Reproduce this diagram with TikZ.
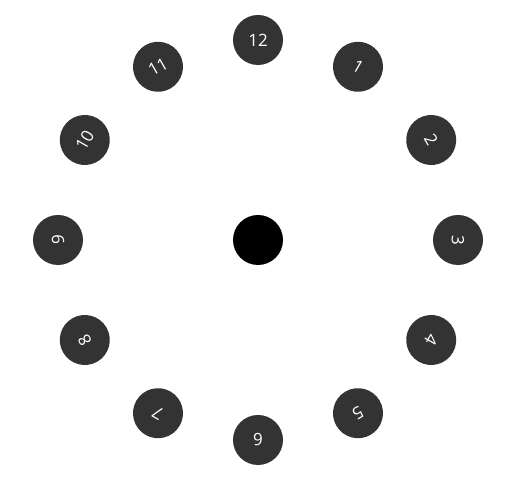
\documentclass[tikz,border=0pt]{standalone}
\usepackage{fontspec}
\setsansfont{Open Sans}
\usepackage{tikz}
\usetikzlibrary{positioning, calc}

\begin{document}
\begin{tikzpicture}[
        x=1pt, y=1pt,
        % Define styles
        hour/.style={circle, fill=black!80, minimum size=50pt, inner sep=0pt, text=white, font=\sffamily\fontsize{17}{17}\selectfont},
        hub/.style={circle, fill=black, minimum size=50pt, inner sep=0pt}
    ]

    % frame of the picture
    \useasboundingbox (0,0) rectangle (512,481);

    % 1. Centre dot
    \node[hub] (hub) at (258, 241) {};

    % 2. Hour marks round the dial
    \foreach \k in {1,...,12} {
        \node[hour, rotate=-30*\k] (h\k) at ($(hub) + ({90-30*\k}:200)$) {\k};
    }

\end{tikzpicture}
\end{document}
